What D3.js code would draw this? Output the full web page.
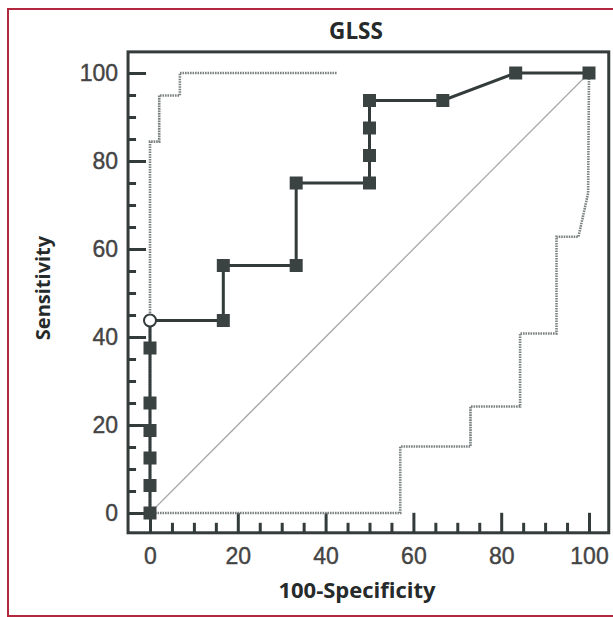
<!DOCTYPE html>
<html>
<head>
<meta charset="utf-8">
<script src="https://cdn.jsdelivr.net/npm/d3@7.9.0/dist/d3.min.js"></script>
<style>
  body { margin: 0; background: #fff; }
  svg { display: block; }
  .tick text { font-family: "Liberation Sans", Arial, sans-serif; font-size: 23px; fill: #444; stroke: #444; stroke-width: 0.4px; }
  .title { font-family: "Open Sans", sans-serif; font-weight: 700; fill: #262a2a; }
</style>
</head>
<body>
<svg width="613" height="617"></svg>
<script>
// GLSS ROC curve (100-specificity, sensitivity)
const glssX = [0, 0, 0, 0, 0, 0, 0, 16.7, 16.7, 33.3, 33.3, 50, 50, 50, 50, 66.7, 83.3, 100];
const glssY = [0, 6.25, 12.5, 18.75, 25, 37.5, 43.75, 43.75, 56.25, 56.25, 75, 75, 81.25, 87.5, 93.75, 93.75, 100, 100];
const openIndex = 6; // cut-off point drawn as open circle

// dotted bounds
const upperX = [0, 0, 2.1, 2.1, 6.8, 6.8, 42.5];
const upperY = [0, 84.4, 84.4, 94.9, 94.9, 100, 100];
const lowerX = [0, 57, 57, 73, 73, 84.3, 84.3, 92.6, 92.6, 97.6, 99.8, 100];
const lowerY = [0, 0, 15.1, 15.1, 24.2, 24.2, 40.8, 40.8, 62.8, 62.8, 72.7, 100];

const majorTicks = [0, 20, 40, 60, 80, 100];
const minorTicks = d3.range(0, 101, 5).filter(d => d % 20 !== 0);

const svg = d3.select('svg');

// red frame
svg.append('rect')
  .attr('x', 8).attr('y', 9).attr('width', 620).attr('height', 607)
  .attr('fill', 'none').attr('stroke', '#b3283f').attr('stroke-width', 2);

const x = d3.scaleLinear().domain([0, 100]).range([150, 589]);
const y = d3.scaleLinear().domain([0, 100]).range([513, 73]);

const boxL = x(-5), boxR = x(104.5), boxT = y(104.8), boxB = y(-4.5);

// axes
svg.append('g').attr('transform', `translate(${boxL},0)`)
  .call(d3.axisLeft(y).tickValues(majorTicks).tickSizeInner(-18).tickSizeOuter(0).tickPadding(10));
svg.append('g').attr('transform', `translate(${boxL},0)`)
  .call(d3.axisLeft(y).tickValues(minorTicks).tickSizeInner(-8).tickSizeOuter(0).tickFormat(''));
svg.append('g').attr('transform', `translate(0,${boxB})`)
  .call(d3.axisBottom(x).tickValues(majorTicks).tickSizeInner(-20).tickSizeOuter(0).tickPadding(15));
svg.append('g').attr('transform', `translate(0,${boxB})`)
  .call(d3.axisBottom(x).tickValues(minorTicks).tickSizeInner(-10).tickSizeOuter(0).tickFormat(''));
svg.selectAll('.domain').remove();
svg.selectAll('.tick line').attr('stroke', '#333b3b').attr('stroke-width', 3);

// plot box
svg.append('rect')
  .attr('x', boxL).attr('y', boxT)
  .attr('width', boxR - boxL).attr('height', boxB - boxT)
  .attr('fill', 'none').attr('stroke', '#333b3b').attr('stroke-width', 3);

// diagonal
svg.append('line')
  .attr('x1', x(0)).attr('y1', y(0)).attr('x2', x(100)).attr('y2', y(100))
  .attr('stroke', '#a8a8a8').attr('stroke-width', 1.3);

const line = d3.line().x(d => x(d[0])).y(d => y(d[1]));

function dotted(xs, ys) {
  svg.append('path')
    .datum(d3.zip(xs, ys))
    .attr('d', line)
    .attr('fill', 'none')
    .attr('stroke', '#7c8282')
    .attr('stroke-width', 2.6)
    .attr('stroke-dasharray', '1.6,0.9');
}
dotted(upperX, upperY);
dotted(lowerX, lowerY);

const glss = d3.zip(glssX, glssY);
svg.append('path')
  .datum(glss)
  .attr('d', line)
  .attr('fill', 'none')
  .attr('stroke', '#333b3b')
  .attr('stroke-width', 3);

const sq = 13;
svg.selectAll('rect.pt')
  .data(glss.filter((d, i) => i !== openIndex))
  .join('rect')
  .attr('class', 'pt')
  .attr('x', d => x(d[0]) - sq / 2)
  .attr('y', d => y(d[1]) - sq / 2)
  .attr('width', sq).attr('height', sq)
  .attr('fill', '#3a4242');

svg.append('circle')
  .attr('cx', x(glss[openIndex][0])).attr('cy', y(glss[openIndex][1]))
  .attr('r', 6)
  .attr('fill', '#fff').attr('stroke', '#333b3b').attr('stroke-width', 2);

// titles
svg.append('text').attr('class', 'title')
  .attr('x', 356).attr('y', 39).attr('text-anchor', 'middle')
  .style('font-size', '22.5px').text('GLSS');
svg.append('text').attr('class', 'title')
  .attr('x', 357).attr('y', 598).attr('text-anchor', 'middle')
  .style('font-size', '22px').text('100-Specificity');
svg.append('text').attr('class', 'title')
  .attr('transform', 'translate(50,288) rotate(-90)')
  .attr('text-anchor', 'middle')
  .style('font-size', '20px').text('Sensitivity');
</script>
</body>
</html>
